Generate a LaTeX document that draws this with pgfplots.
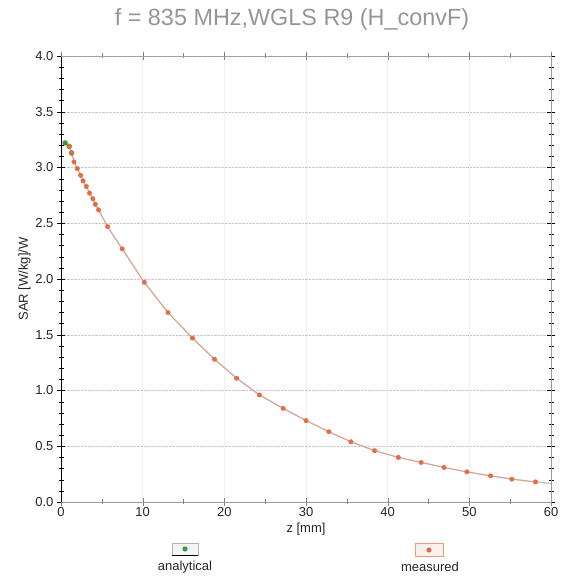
\documentclass[border=0pt]{standalone}
\usepackage{fontspec}
\setmainfont{Liberation Sans}
\usepackage{pgfplots}
\usepackage{pgfplotstable}
\pgfplotsset{compat=1.18}

\definecolor{meas}{RGB}{226,110,68}
\definecolor{anal}{RGB}{60,150,60}
\definecolor{titlegray}{RGB}{150,150,150}
\definecolor{curvegray}{RGB}{205,195,195}

% analytical curve
\pgfplotstableread{
z sar
0.5 3.22
1.0 3.19
1.3 3.13
1.6 3.05
2.0 2.99
2.4 2.93
2.7 2.88
3.1 2.83
3.5 2.77
3.9 2.72
4.2 2.67
4.6 2.62
5.7 2.47
7.5 2.27
10.2 1.97
13.1 1.70
16.1 1.47
18.8 1.28
21.5 1.11
24.3 0.96
27.2 0.84
30.0 0.73
32.8 0.63
35.5 0.54
38.4 0.46
41.3 0.40
44.1 0.355
46.9 0.31
49.7 0.27
52.6 0.235
55.2 0.205
58.1 0.18
60.0 0.165
}\analytical

% measured points
\pgfplotstableread{
z sar
1.0 3.19
1.3 3.13
1.6 3.05
2.0 2.99
2.4 2.93
2.7 2.88
3.1 2.83
3.5 2.77
3.9 2.72
4.2 2.67
4.6 2.62
5.7 2.47
7.5 2.27
10.2 1.97
13.1 1.70
16.1 1.47
18.8 1.28
21.5 1.11
24.3 0.96
27.2 0.84
30.0 0.73
32.8 0.63
35.5 0.54
38.4 0.46
41.3 0.40
44.1 0.355
46.9 0.31
49.7 0.27
52.6 0.235
55.2 0.205
58.1 0.18
}\measured

\begin{document}
\begin{tikzpicture}[x=1pt,y=1pt]
\useasboundingbox (0,0) rectangle (560,580);
\begin{axis}[
  at={(61pt,78pt)}, anchor=south west,
  width=490pt, height=446pt, scale only axis,
  xmin=0, xmax=60, ymin=0, ymax=4,
  xtick={0,10,...,60}, minor x tick num=1,
  ytick={0,0.5,...,4}, minor y tick num=4,
  yticklabel style={/pgf/number format/.cd,fixed,fixed zerofill,precision=1},
  /pgf/number format/assume math mode=true,
  tick label style={font=\fontsize{13}{15}\selectfont, black!85},
  xticklabel style={yshift=2pt},
  tick align=center,
  major tick length=8pt, minor tick length=5pt,
  x tick style={gray},
  y tick style={black},
  axis line style={gray!80},
  xmajorgrids, ymajorgrids,
  x grid style={gray!12},
  y grid style={densely dotted, gray!45},
  xlabel={z [mm]},
  ylabel={SAR [W/kg]/W},
  label style={font=\fontsize{13}{15}\selectfont, black!85},
  xlabel style={yshift=1pt},
  ylabel style={yshift=-2pt},
]
\addplot[curvegray, line width=1.4pt, mark=*, mark size=2pt, mark indices={1,2,3},
  mark options={anal, draw=anal}] table[x=z, y=sar] {\analytical};
\addplot[meas!75, line width=0.5pt, mark=*, mark size=2.2pt,
  mark options={meas}] table[x=z, y=sar] {\measured};
\draw[black, line width=0.8pt] (axis description cs:0,0) -- (axis description cs:0,1);
\draw[gray!70, densely dashed, line width=0.6pt] (axis description cs:0,1) -- (axis description cs:1,1);
\end{axis}
\node[text=titlegray, font=\fontsize{23.4}{27}\selectfont] at (292,561) {f = 835 MHz,WGLS R9 (H\_convF)};
% legend
\draw[gray!60, fill=gray!8] (172,25) rectangle (198,37);
\draw[black] (172,25) -- (198,25);
\fill[anal] (185,31) circle (2.6);
\node[font=\fontsize{13}{15}\selectfont, black!85] at (185,13) {analytical};
\draw[meas!70, fill=meas!10] (415,24) rectangle (443,37);
\fill[meas] (429,30) circle (2.6);
\node[font=\fontsize{13}{15}\selectfont, black!85] at (430,13) {measured};
\end{tikzpicture}
\end{document}
